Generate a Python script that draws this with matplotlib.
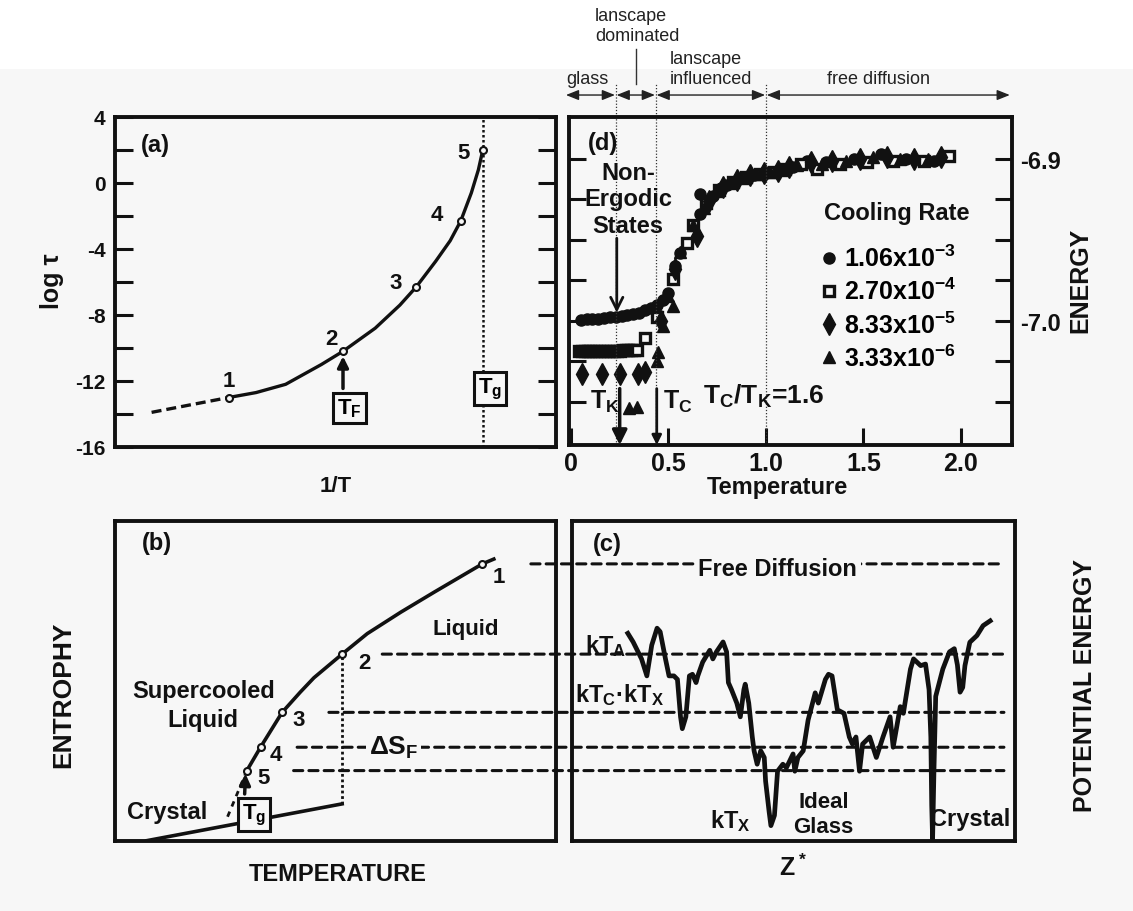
import matplotlib
matplotlib.use("Agg")
import matplotlib.pyplot as plt
from matplotlib.patches import Rectangle, ConnectionPatch
from matplotlib.ticker import MultipleLocator, FixedLocator, FuncFormatter

plt.rcParams['font.family'] = ['Liberation Sans', 'DejaVu Sans']
plt.rcParams['font.weight'] = 'bold'
plt.rcParams['mathtext.default'] = 'regular'
plt.rcParams['axes.unicode_minus'] = False

BG = '#f7f7f7'
INK = '#111111'

# ---- (a) log tau vs 1/T ----
a_pts_x = [0.258, 0.517, 0.683, 0.784, 0.834]
a_pts_y = [-13.0, -10.2, -6.3, -2.3, 2.0]
a_curve_x = [0.258, 0.32, 0.387, 0.468, 0.517, 0.59, 0.646, 0.683, 0.727, 0.76, 0.784, 0.808, 0.824, 0.834]
a_curve_y = [-13.0, -12.7, -12.2, -11.0, -10.2, -8.8, -7.4, -6.3, -4.75, -3.5, -2.3, -0.6, 0.8, 2.0]
a_tail_x = [0.083, 0.17, 0.258]
a_tail_y = [-13.9, -13.45, -13.0]
a_Tg = 0.834

# ---- (b) entropy vs temperature ----
b_pts_x = [83.3, 51.5, 37.9, 33.0, 29.9]
b_pts_y = [86.6, 58.4, 40.2, 29.3, 22.0]
b_curve_x = [29.9, 33.0, 37.9, 42.0, 45.1, 51.5, 57.2, 64.8, 72.3, 83.3, 85.9]
b_curve_y = [22.0, 29.3, 40.2, 46.5, 51.0, 58.4, 64.8, 71.5, 77.7, 86.6, 88.1]
b_crystal_x = [7.2, 51.5]
b_crystal_y = [0.1, 11.6]
b_glass_x = [29.9, 25.5]
b_glass_y = [22.0, 7.5]
b_level_start = [94.3, 60.6, 48.5, 41.3, 40.5]
c_level_end = 97.5

# ---- (c) potential energy landscape ----
c_x = [12.6, 13.8, 15.7, 16.9, 18.0, 19.2, 19.9, 21.1, 21.9, 23.0, 23.8, 24.5, 24.9, 25.7,
       26.5, 27.2, 28.0, 28.4, 29.5, 31.1, 31.8, 32.6, 34.1, 34.9, 35.3, 36.0, 37.2, 38.0,
       38.8, 39.1, 39.9, 40.7, 41.1, 41.8, 42.6, 43.4, 43.7, 44.5, 44.9, 45.7, 46.4, 47.6,
       48.4, 49.9, 50.3, 51.0, 52.2, 53.3, 54.9, 55.6, 57.2, 57.9, 58.7, 59.9, 61.4, 62.6,
       63.3, 64.1, 64.9, 65.6, 67.2, 68.7, 70.2, 71.8, 72.5, 74.1, 74.8, 76.4, 77.1, 78.7,
       79.8, 80.6, 81.0, 81.2, 81.4, 81.7, 82.1, 83.7, 85.2, 86.3, 87.0, 87.6, 88.2, 88.7,
       89.8, 91.4, 92.8, 94.4]
c_y = [64.9, 62.2, 56.9, 51.6, 61.2, 66.5, 65.4, 56.9, 51.6, 51.6, 50.5, 38.8, 35.1, 38.8,
       51.6, 52.1, 49.5, 51.6, 55.9, 59.6, 56.9, 59.1, 62.2, 59.1, 49.5, 47.3, 43.1, 38.8,
       47.3, 49.0, 43.1, 32.5, 28.2, 24.0, 28.2, 26.1, 18.7, 9.1, 4.8, 8.0, 21.8, 24.0,
       22.9, 27.2, 21.8, 26.1, 28.2, 37.8, 46.3, 43.1, 50.5, 52.1, 51.6, 41.0, 39.9, 32.5,
       30.3, 32.5, 21.8, 30.3, 32.5, 26.1, 32.5, 38.8, 29.3, 42.0, 39.9, 53.7, 56.9, 54.8,
       55.3, 47.3, 32.5, 11.2, 0.6, 21.8, 45.2, 53.7, 59.1, 60.1, 55.0, 46.5, 48.0, 54.8,
       62.1, 64.2, 67.3, 68.8]

# ---- (d) energy vs temperature for four cooling rates ----
rate_labels = ['1.06x10$^{-3}$', '2.70x10$^{-4}$', '8.33x10$^{-5}$', '3.33x10$^{-6}$']
circ_T = [0.05, 0.08, 0.11, 0.14, 0.17, 0.20, 0.23, 0.26, 0.29, 0.32, 0.35, 0.38, 0.41, 0.44, 0.47, 0.50,
          0.534, 0.559, 0.661, 0.661, 0.70, 0.73, 0.77, 0.80, 0.84, 0.87, 0.90, 0.94, 0.97, 1.00,
          1.04, 1.07, 1.11, 1.14, 1.21, 1.31, 1.45, 1.59, 1.72, 1.86]
circ_E = [-6.9995, -6.999, -6.999, -6.9988, -6.9985, -6.998, -6.9975, -6.997, -6.9965, -6.996, -6.995,
          -6.9935, -6.992, -6.990, -6.987, -6.983,
          -6.966, -6.958, -6.9216, -6.934, -6.926, -6.923, -6.918, -6.916, -6.914, -6.912, -6.911,
          -6.910, -6.909, -6.9085, -6.908, -6.907, -6.906, -6.905, -6.901, -6.902, -6.900, -6.897,
          -6.900, -6.901]
sq_T = [0.04, 0.055, 0.07, 0.085, 0.10, 0.115, 0.13, 0.145, 0.16, 0.175, 0.19, 0.205, 0.22, 0.235,
        0.25, 0.265, 0.28, 0.295, 0.31, 0.325, 0.34,
        0.379, 0.44, 0.525, 0.593, 0.627, 0.695, 0.76, 0.83, 0.90, 0.97, 1.04, 1.10, 1.18, 1.26,
        1.38, 1.52, 1.65, 1.81, 1.94]
sq_E = [-7.019, -7.019, -7.019, -7.019, -7.019, -7.019, -7.019, -7.0188, -7.0188, -7.0188, -7.0188,
        -7.0186, -7.0186, -7.0186, -7.0186, -7.0184, -7.0184, -7.0184, -7.0184, -7.0182, -7.018,
        -7.0108, -6.998, -6.974, -6.952, -6.941, -6.927, -6.919, -6.914, -6.911, -6.909, -6.908,
        -6.906, -6.903, -6.906, -6.903, -6.902, -6.901, -6.901, -6.898]
dia_T = [0.055, 0.157, 0.251, 0.345, 0.379,
         0.46, 0.534, 0.644, 0.71, 0.78, 0.85, 0.92, 0.99, 1.06, 1.12, 1.23, 1.34, 1.48, 1.62, 1.76, 1.90]
dia_E = [-7.033, -7.033, -7.033, -7.033, -7.032,
         -7.000, -6.968, -6.9474, -6.926, -6.917, -6.913, -6.910, -6.9088, -6.9075, -6.905, -6.902,
         -6.901, -6.900, -6.899, -6.900, -6.899]
tri_T = [0.30, 0.337, 0.44, 0.448, 0.473, 0.50, 0.525,
         0.559, 0.627, 0.68, 0.745, 0.815, 0.885, 0.955, 1.02, 1.09, 1.16, 1.29, 1.41, 1.55, 1.69, 1.83]
tri_E = [-7.054, -7.0536, -7.0247, -7.0196, -7.0031, -6.985, -6.9907,
         -6.9577, -6.941, -6.930, -6.920, -6.915, -6.9115, -6.9095, -6.9082, -6.9065, -6.904, -6.903,
         -6.901, -6.899, -6.900, -6.900]
T_K, T_C = 0.25, 0.44
regime_edges = [-0.03, 0.23, 0.435, 1.0, 2.255]

W, H = 1133, 912
fig = plt.figure(figsize=(W / 100, H / 100), dpi=100)
fig.patch.set_facecolor('white')
fig.add_artist(Rectangle((0, 0), 1, 1 - 70 / H, transform=fig.transFigure,
                         facecolor=BG, edgecolor='none', zorder=-10))


def panel(x0, y0, x1, y1):
    ax = fig.add_axes([x0 / W, 1 - y1 / H, (x1 - x0) / W, (y1 - y0) / H])
    ax.set_facecolor('none')
    for s in ax.spines.values():
        s.set_linewidth(2.8)
        s.set_color(INK)
    return ax


def ftext(x, y, s, **kw):
    fig.text(x / W, 1 - y / H, s, ha='center', va='center', color=INK, **kw)


ax_a = panel(115, 118, 556, 448)
ax_d = panel(569, 118, 1012, 446)
ax_b = panel(115, 522, 556, 842)
ax_c = panel(572, 522, 1015, 842)
ax_b.set_zorder(2)

box = dict(boxstyle='square,pad=0.18', fc=BG, ec=INK, lw=2.2)
up_arrow = dict(arrowstyle='-|>', color=INK, lw=2.5, mutation_scale=16, shrinkA=0, shrinkB=0)

# ---------------- panel (a) ----------------
ax_a.set_xlim(0, 1)
ax_a.set_ylim(-16, 4)
ax_a.plot(a_curve_x, a_curve_y, color=INK, lw=2.4)
ax_a.plot(a_tail_x, a_tail_y, color=INK, lw=2.4, ls=(0, (3, 1.5)))
ax_a.axvline(a_Tg, color=INK, lw=1.8, ls=(0, (1, 1)))
ax_a.plot(a_pts_x, a_pts_y, 'o', ms=5, mfc=BG, mec=INK, mew=1.5, zorder=4)
a_offsets = [(0, 12), (-8, 9), (-15, 3), (-17, 5), (-14, -2)]
for i, (x, y) in enumerate(zip(a_pts_x, a_pts_y)):
    ax_a.annotate(str(i + 1), (x, y), xytext=a_offsets[i], textcoords='offset points',
                  ha='center', va='center', fontsize=16, color=INK)
ax_a.text(0.091, 2.36, '(a)', fontsize=17, ha='center', va='center', color=INK)
ax_a.text(0.531, -13.64, 'T$_F$', fontsize=16, ha='center', va='center', bbox=box, zorder=5)
ax_a.text(0.850, -12.48, 'T$_g$', fontsize=16, ha='center', va='center', bbox=box, zorder=5)
ax_a.annotate('', xy=(a_pts_x[1], -10.5), xytext=(a_pts_x[1], -12.45), arrowprops=up_arrow)
ax_a.set_xticks([])
ax_a.yaxis.set_major_locator(MultipleLocator(4))
ax_a.yaxis.set_minor_locator(MultipleLocator(2))
ax_a.tick_params(axis='y', which='both', direction='in', length=13, width=2.2,
                 left=True, right=True, labelsize=15, pad=7, colors=INK)
ftext(52, 281, 'log τ', fontsize=18, rotation=90)
ftext(336, 487, '1/T', fontsize=16)

# ---------------- panel (d) ----------------
ax_d.set_xlim(-0.01, 2.262)
ax_d.set_ylim(-7.0769, -6.874)
ms = 8
ax_d.plot(circ_T, circ_E, 'o', ms=ms, color=INK, ls='none', label=rate_labels[0])
ax_d.plot(sq_T, sq_E, 's', ms=ms - 1, mfc=BG, mec=INK, mew=2.4, ls='none', label=rate_labels[1])
ax_d.plot(dia_T, dia_E, 'd', ms=ms + 3, color=INK, ls='none', label=rate_labels[2])
ax_d.plot(tri_T, tri_E, '^', ms=ms, color=INK, ls='none', label=rate_labels[3])
ax_d.legend(loc='upper left', bbox_to_anchor=(0.57, 0.61),
            frameon=False, fontsize=18, handlelength=0.6,
            handletextpad=0.3, labelspacing=0.27, borderpad=0, borderaxespad=0)
ax_d.text(1.670, -6.933, 'Cooling Rate', fontsize=17, ha='center', va='center', color=INK)

ax_d.xaxis.set_major_locator(FixedLocator([0, 0.5, 1.0, 1.5, 2.0]))
ax_d.xaxis.set_major_formatter(FuncFormatter(lambda v, _: '0' if v == 0 else f'{v:.1f}'))
ax_d.yaxis.set_major_locator(FixedLocator([-7.05, -7.025, -7.0, -6.975, -6.95, -6.925, -6.9]))
ax_d.yaxis.set_major_formatter(FuncFormatter(
    lambda v, _: f'{v:.1f}' if abs(v * 10 - round(v * 10)) < 1e-6 else ''))
ax_d.tick_params(axis='x', direction='in', length=12, width=2.2, top=False,
                 labelsize=18, pad=4, colors=INK)
ax_d.tick_params(axis='y', direction='in', length=12, width=2.2, left=True, right=True,
                 labelleft=False, labelright=True, labelsize=17, pad=6, colors=INK)

ax_d.text(0.166, -6.8897, '(d)', fontsize=17, ha='center', va='center', color=INK)
ax_d.text(0.292, -6.9247, 'Non-\nErgodic\nStates', fontsize=17, ha='center', va='center',
          linespacing=1.2, color=INK)
ax_d.annotate('', xy=(0.235, -6.995), xytext=(0.235, -6.949),
              arrowprops=dict(arrowstyle='->', color=INK, lw=2, mutation_scale=22,
                              shrinkA=0, shrinkB=0))
ax_d.annotate('', xy=(T_K, -7.0769), xytext=(T_K, -7.042),
              arrowprops=dict(arrowstyle='-|>', color=INK, lw=2.5, mutation_scale=22,
                              shrinkA=0, shrinkB=0))
ax_d.annotate('', xy=(T_C, -7.0769), xytext=(T_C, -7.042),
              arrowprops=dict(arrowstyle='-|>', color=INK, lw=2, mutation_scale=14,
                              shrinkA=0, shrinkB=0))
ax_d.text(0.174, -7.0495, 'T$_K$', fontsize=18, ha='center', va='center', color=INK)
ax_d.text(0.549, -7.0495, 'T$_C$', fontsize=18, ha='center', va='center', color=INK)
ax_d.text(0.677, -7.0464, 'T$_C$/T$_K$=1.6', fontsize=19, ha='left', va='center', color=INK)
ftext(777, 488, 'Temperature', fontsize=17)
ftext(1080, 280, 'ENERGY', fontsize=18, rotation=90)

# regime arrows above panel (d)
xtr = ax_d.get_xaxis_transform()
for x0, x1 in zip(regime_edges[:-1], regime_edges[1:]):
    ax_d.annotate('', xy=(x1, 1.067), xytext=(x0, 1.067), xycoords=xtr, textcoords=xtr,
                  annotation_clip=False,
                  arrowprops=dict(arrowstyle='<|-|>,head_length=0.55,head_width=0.22',
                                  mutation_scale=14, lw=1, color='#222222',
                                  shrinkA=0.6, shrinkB=0.6))
for x in regime_edges[1:4]:
    ax_d.axvline(x, 0, 1.101, clip_on=False, lw=0.9, color='#333333', ls=(0, (1, 1.5)))
ax_d.axvline(0.333, 1.101, 1.207, clip_on=False, lw=1, color='#333333')
top_kw = dict(fontsize=13, fontweight='normal', color='#222222', va='center',
              transform=xtr, clip_on=False)
ax_d.text(-0.022, 1.118, 'glass', ha='left', **top_kw)
ax_d.text(0.123, 1.309, 'lanscape', ha='left', **top_kw)
ax_d.text(0.123, 1.248, 'dominated', ha='left', **top_kw)
ax_d.text(0.508, 1.179, 'lanscape', ha='left', **top_kw)
ax_d.text(0.508, 1.118, 'influenced', ha='left', **top_kw)
ax_d.text(1.579, 1.118, 'free diffusion', ha='center', **top_kw)

# ---------------- panel (b) ----------------
ax_b.set_xlim(0, 100)
ax_b.set_ylim(0, 100)
ax_b.set_xticks([])
ax_b.set_yticks([])
ax_b.plot(b_curve_x, b_curve_y, color=INK, lw=2.6)
ax_b.plot(b_crystal_x, b_crystal_y, color=INK, lw=2.6)
ax_b.plot(b_glass_x, b_glass_y, color=INK, lw=2, ls=(0, (2, 2)))
ax_b.plot([b_pts_x[1], b_pts_x[1]], [b_crystal_y[1], b_pts_y[1]], color=INK, lw=2,
          ls=(0, (1, 1)))
ax_b.plot(b_pts_x, b_pts_y, 'o', ms=5, mfc=BG, mec=INK, mew=1.5, zorder=4)
b_offsets = [(12, -9), (16, -6), (12, -5), (11, -5), (12, -5)]
for i, (x, y) in enumerate(zip(b_pts_x, b_pts_y)):
    ax_b.annotate(str(i + 1), (x, y), xytext=b_offsets[i], textcoords='offset points',
                  ha='center', va='center', fontsize=16, color=INK)
ax_b.text(9.5, 93.4, '(b)', fontsize=17, ha='center', va='center', color=INK)
ax_b.text(79.5, 66.3, 'Liquid', fontsize=16, ha='center', va='center', color=INK)
ax_b.text(20.0, 46.9, 'Supercooled', fontsize=17, ha='center', va='center', color=INK)
ax_b.text(20.0, 38.1, 'Liquid', fontsize=17, ha='center', va='center', color=INK)
ax_b.text(11.8, 9.1, 'Crystal', fontsize=17, ha='center', va='center', color=INK)
ax_b.text(63.2, 29.4, 'ΔS$_F$', fontsize=19, ha='center', va='center', color=INK,
          bbox=dict(boxstyle='square,pad=0.1', fc=BG, ec='none'), zorder=5)
ax_b.text(31.6, 8.4, 'T$_g$', fontsize=16, ha='center', va='center', bbox=box, zorder=5)
ax_b.annotate('', xy=(29.6, 21.0), xytext=(29.4, 14.7), arrowprops=up_arrow)
ftext(63, 695, 'ENTROPHY', fontsize=19, rotation=90)
ftext(338, 875, 'TEMPERATURE', fontsize=17)

# ---------------- panel (c) ----------------
ax_c.set_xlim(0, 100)
ax_c.set_ylim(0, 100)
ax_c.set_xticks([])
ax_c.set_yticks([])
ax_c.plot(c_x, c_y, color=INK, lw=3.4, solid_joinstyle='round', zorder=3)
# energy levels shared between (b) and (c)
for xs, lvl in zip(b_level_start, b_pts_y):
    con = ConnectionPatch(xyA=(xs, lvl), coordsA=ax_b.transData,
                          xyB=(c_level_end, lvl), coordsB=ax_c.transData,
                          color=INK, lw=2.2, ls=(0, (3, 2)))
    ax_c.add_artist(con)
    con.set_clip_on(False)
ax_c.text(8.0, 93.1, '(c)', fontsize=17, ha='center', va='center', color=INK)
ax_c.text(46.4, 85.1, 'Free Diffusion', fontsize=17, ha='center', va='center', color=INK,
          bbox=dict(boxstyle='square,pad=0.15', fc=BG, ec='none'), zorder=5)
ax_c.text(2.9, 61.3, 'kT$_A$', fontsize=17, ha='left', va='center', color=INK, zorder=5)
ax_c.text(0.6, 45.8, 'kT$_C$·kT$_X$', fontsize=17, ha='left', va='center', color=INK, zorder=5)
ax_c.text(35.8, 6.6, 'kT$_X$', fontsize=17, ha='center', va='center', color=INK)
ax_c.text(56.8, 12.3, 'Ideal', fontsize=16, ha='center', va='center', color=INK)
ax_c.text(56.8, 4.4, 'Glass', fontsize=16, ha='center', va='center', color=INK)
ax_c.text(89.8, 6.9, 'Crystal', fontsize=17, ha='center', va='center', color=INK)
ftext(793, 868, 'Z$^*$', fontsize=18)
ftext(1085, 685, 'POTENTIAL ENERGY', fontsize=18, rotation=90)

fig.savefig('out.png', dpi=100, facecolor=fig.get_facecolor())
